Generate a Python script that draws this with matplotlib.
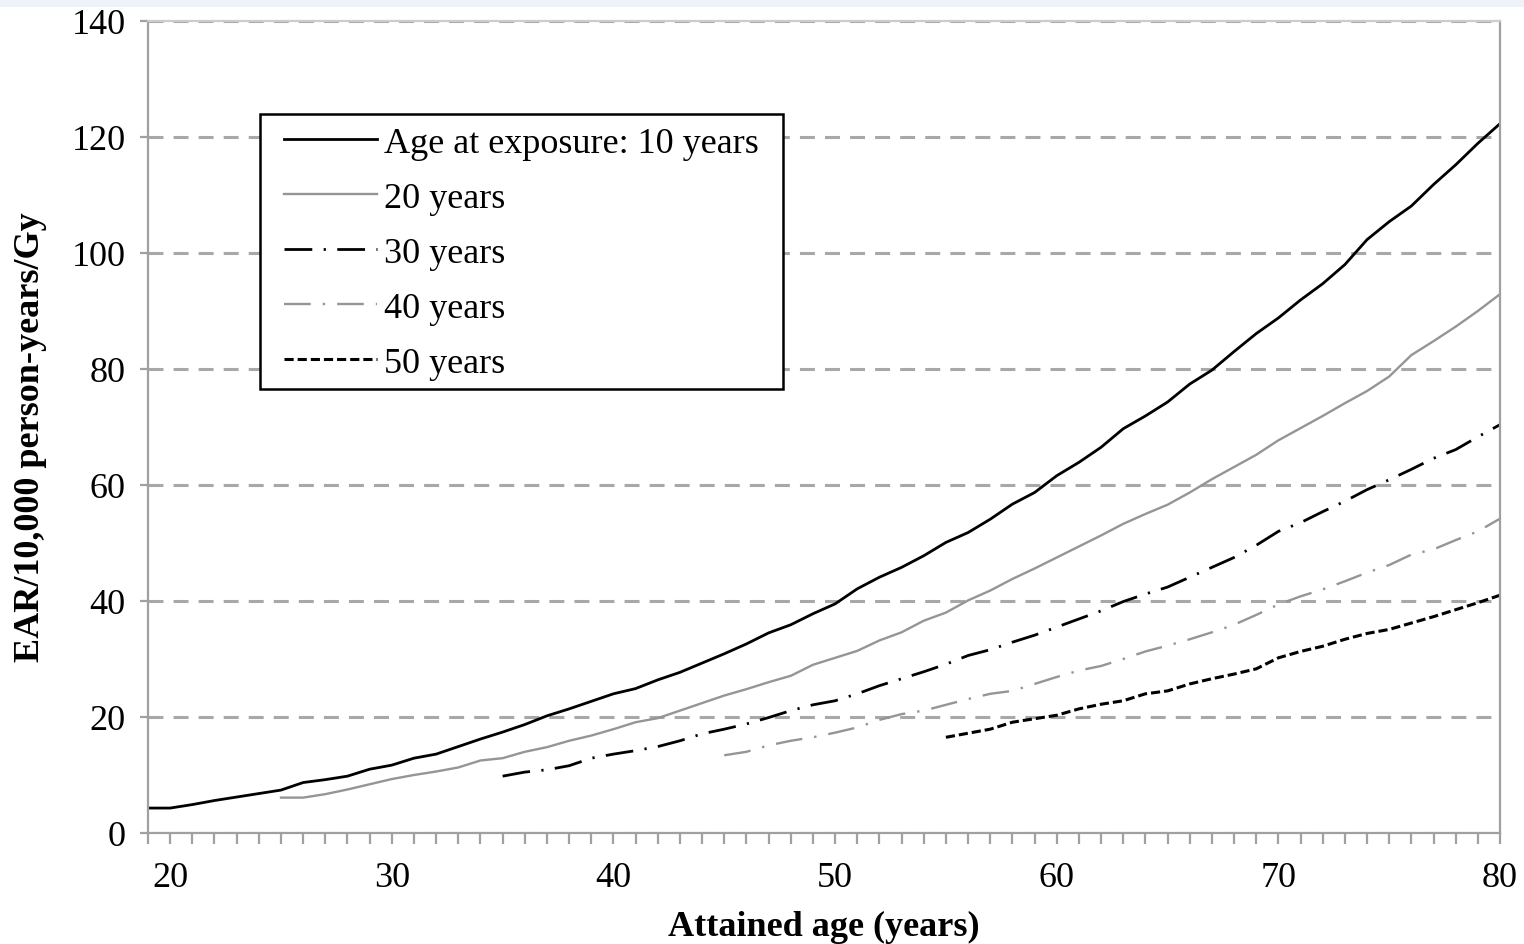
import matplotlib
matplotlib.use('Agg')
import matplotlib.pyplot as plt
from matplotlib.patches import Rectangle
from matplotlib.ticker import MultipleLocator
from matplotlib.transforms import IdentityTransform

plt.rcParams['font.family'] = ['Liberation Serif', 'DejaVu Serif']

# EAR per 10,000 person-years per Gy (one value per year of attained age)
ages_10 = list(range(19, 81))
ear_10 = [4.3, 4.3, 4.9, 5.6, 6.2, 6.8, 7.4, 8.7, 9.2, 9.8,
          11.0, 11.7, 12.9, 13.6, 14.9, 16.2, 17.4, 18.7, 20.2, 21.4,
          22.7, 24.0, 24.9, 26.4, 27.7, 29.3, 30.9, 32.6, 34.5, 35.9,
          37.8, 39.5, 42.1, 44.1, 45.8, 47.8, 50.1, 51.8, 54.1, 56.7,
          58.7, 61.6, 63.9, 66.5, 69.7, 71.9, 74.3, 77.4, 79.8, 83.0,
          86.1, 88.8, 91.9, 94.7, 98.0, 102.3, 105.4, 108.1, 111.8, 115.2,
          118.9, 122.3]

ages_20 = list(range(25, 81))
ear_20 = [6.1, 6.1, 6.7, 7.5, 8.4, 9.3, 10.0, 10.6, 11.3, 12.5,
          12.9, 14.0, 14.8, 15.9, 16.8, 17.9, 19.1, 19.8, 21.1, 22.4,
          23.7, 24.8, 26.0, 27.1, 29.0, 30.2, 31.4, 33.2, 34.6, 36.6,
          38.0, 40.1, 41.8, 43.8, 45.6, 47.5, 49.4, 51.3, 53.3, 55.0,
          56.6, 58.7, 61.0, 63.1, 65.2, 67.7, 69.8, 71.9, 74.1, 76.2,
          78.7, 82.4, 84.8, 87.3, 90.0, 92.9]

ages_30 = list(range(35, 81))
ear_30 = [9.8, 10.5, 10.9, 11.6, 12.9, 13.6, 14.2, 14.9, 15.9, 17.1,
          17.9, 18.8, 19.9, 21.1, 22.1, 22.8, 24.0, 25.4, 26.6, 27.8,
          29.1, 30.6, 31.6, 32.9, 34.1, 35.5, 36.9, 38.3, 39.9, 41.2,
          42.4, 44.1, 45.8, 47.5, 49.6, 52.0, 53.5, 55.4, 57.2, 59.2,
          60.9, 62.7, 64.6, 66.1, 68.3, 70.4]

ages_40 = list(range(45, 81))
ear_40 = [13.4, 14.0, 15.1, 15.9, 16.5, 17.3, 18.2, 19.5, 20.5, 21.1,
          22.1, 23.1, 24.0, 24.5, 25.7, 26.9, 28.0, 28.8, 30.0, 31.3,
          32.3, 33.4, 34.6, 35.9, 37.6, 39.4, 40.8, 42.0, 43.4, 44.9,
          46.2, 48.0, 48.9, 50.5, 52.0, 54.2]

ages_50 = list(range(55, 81))
ear_50 = [16.5, 17.2, 17.9, 19.1, 19.7, 20.3, 21.4, 22.2, 22.8, 24.0,
          24.5, 25.7, 26.6, 27.4, 28.3, 30.2, 31.3, 32.2, 33.4, 34.4,
          35.1, 36.2, 37.3, 38.5, 39.7, 41.0]

labels = ['Age at exposure: 10 years', '20 years', '30 years', '40 years', '50 years']

fig = plt.figure(figsize=(15.24, 9.45), dpi=100)
fig.patches.append(Rectangle((0, 1 - 8 / 945), 1, 8 / 945, transform=fig.transFigure,
                             facecolor='#eef3f9', edgecolor='none', zorder=0))
ax = fig.add_axes([148 / 1524, 1 - 834 / 945, 1352 / 1524, 812 / 945])

ax.plot(ages_10, ear_10, color='black', lw=2.0, label=labels[0])
ax.plot(ages_20, ear_20, color='#959595', lw=1.7, label=labels[1])
ax.plot(ages_30, ear_30, color='black', lw=2.0, dashes=(10, 4.1, 0.8, 4.1), label=labels[2])
ax.plot(ages_40, ear_40, color='#959595', lw=1.7, dashes=(11.3, 5.1, 1, 5.1), label=labels[3])
ax.plot(ages_50, ear_50, color='black', lw=2.2, dashes=(3, 1.3), label=labels[4])

ax.set_xlim(19, 80)
ax.set_ylim(0, 140)
ax.xaxis.set_major_locator(MultipleLocator(10))
ax.xaxis.set_minor_locator(MultipleLocator(1))
ax.yaxis.set_major_locator(MultipleLocator(20))

ax.yaxis.grid(True, color='#a8a8a8', lw=2.2, dashes=(4.9, 3.3))
ax.set_axisbelow(True)

for s in ['left', 'right', 'bottom']:
    ax.spines[s].set_color('#a0a0a0')
    ax.spines[s].set_linewidth(1.6)
ax.spines['top'].set_color('#cccccc')
ax.spines['top'].set_linewidth(1.6)

ax.tick_params(axis='x', which='both', direction='out', length=8, width=1.6,
               color='#a0a0a0', labelsize=26, pad=12)
ax.tick_params(axis='y', which='major', direction='out', length=6, width=1.6,
               color='#a0a0a0', labelsize=26, pad=10)

ax.set_xlabel('Attained age (years)', fontsize=26, fontweight='bold', labelpad=12)
ax.set_ylabel('EAR/10,000 person-years/Gy', fontsize=26, fontweight='bold')
ax.yaxis.set_label_coords((47 - 148) / 1352, (834 - 437) / 812)

leg = ax.legend(loc='upper left', bbox_to_anchor=((273 - 148) / 1352, (834 - 117) / 812),
                borderaxespad=0, fontsize=26, handlelength=2.58, handletextpad=0.2,
                labelspacing=0.6, borderpad=0.3, frameon=False)
leg.set_zorder(6)

# white box round the legend, wider on the sides than on top and bottom
fig.canvas.draw()
bb = leg.get_window_extent()
box = Rectangle((bb.x0 - 13, bb.y0 + 2), bb.width + 26, bb.height,
                transform=IdentityTransform(), facecolor='white',
                edgecolor='black', linewidth=1.8, zorder=5, clip_on=False)
ax.add_artist(box)

plt.savefig('out.png', dpi=100)
